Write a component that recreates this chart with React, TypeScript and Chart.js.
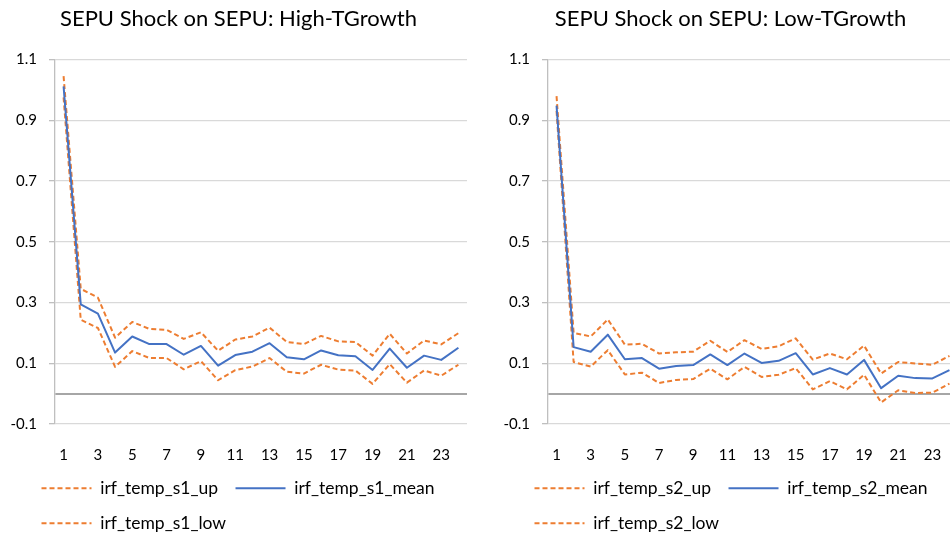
import React, { useEffect, useRef } from "react";
import { Chart, registerables } from "chart.js";

Chart.register(...registerables);

const PERIODS = Array.from({ length: 24 }, (_, i) => String(i + 1));
const Y_TICKS = [-0.1, 0, 0.1, 0.3, 0.5, 0.7, 0.9, 1.1];

const TITLE_1 = "SEPU Shock on SEPU: High-TGrowth";
const S1_UP = [1.045, 0.345, 0.316, 0.184, 0.236, 0.213, 0.21, 0.18, 0.202, 0.141, 0.178, 0.188, 0.217, 0.17, 0.163, 0.19, 0.172, 0.17, 0.125, 0.197, 0.132, 0.175, 0.162, 0.199];
const S1_MEAN = [1.011, 0.294, 0.263, 0.135, 0.188, 0.163, 0.163, 0.128, 0.157, 0.092, 0.127, 0.138, 0.166, 0.12, 0.113, 0.142, 0.126, 0.123, 0.078, 0.148, 0.085, 0.125, 0.111, 0.151];
const S1_LOW = [0.975, 0.243, 0.216, 0.088, 0.14, 0.117, 0.117, 0.08, 0.107, 0.044, 0.077, 0.089, 0.117, 0.072, 0.066, 0.095, 0.079, 0.076, 0.032, 0.097, 0.036, 0.076, 0.059, 0.095];

const TITLE_2 = "SEPU Shock on SEPU: Low-TGrowth";
const S2_UP = [0.979, 0.2, 0.188, 0.244, 0.161, 0.164, 0.132, 0.136, 0.138, 0.174, 0.137, 0.176, 0.147, 0.156, 0.182, 0.112, 0.132, 0.113, 0.158, 0.066, 0.104, 0.099, 0.095, 0.124];
const S2_MEAN = [0.948, 0.153, 0.138, 0.194, 0.113, 0.117, 0.082, 0.091, 0.094, 0.129, 0.094, 0.132, 0.101, 0.108, 0.133, 0.063, 0.084, 0.063, 0.111, 0.018, 0.059, 0.051, 0.05, 0.077];
const S2_LOW = [0.93, 0.104, 0.089, 0.143, 0.063, 0.069, 0.035, 0.045, 0.048, 0.082, 0.047, 0.088, 0.055, 0.062, 0.084, 0.014, 0.041, 0.014, 0.062, -0.029, 0.011, 0.002, 0.003, 0.033];

const ORANGE = "#ED7D31";
const BLUE = "#4472C4";
const FONT = "Lato, 'Open Sans', sans-serif";
const CANVAS_H = 542;

const legendShift = {
  id: "legendShift",
  afterLayout(chart: any) {
    if (chart.legend) {
      chart.legend.left += 14;
      chart.legend.right += 14;
    }
  },
};

type Props = {
  title: string;
  prefix: string;
  up: number[];
  mean: number[];
  low: number[];
  left: number;
  width: number;
};

function IrfChart({ title, prefix, up, mean, low, left, width }: Props) {
  const ref = useRef<HTMLCanvasElement>(null);
  useEffect(() => {
    const canvas = ref.current!;
    const dashed = { borderColor: ORANGE, backgroundColor: ORANGE, borderWidth: 2, borderDash: [5, 3], pointRadius: 0, tension: 0, borderJoinStyle: "round" as const };
    const chart = new Chart(canvas, {
      type: "line",
      plugins: [legendShift],
      data: {
        labels: PERIODS,
        datasets: [
          { label: prefix + "_up", data: up, ...dashed, order: 2 },
          { label: prefix + "_mean", data: mean, borderColor: BLUE, backgroundColor: BLUE, borderWidth: 2, pointRadius: 0, tension: 0, borderJoinStyle: "round", order: 1 },
          { label: prefix + "_low", data: low, ...dashed, order: 3 },
        ],
      },
      options: {
        animation: false,
        responsive: false,
        devicePixelRatio: 1,
        layout: { padding: { left: 10, right: 13, top: 0, bottom: 0 } },
        plugins: {
          title: {
            display: true,
            text: title,
            color: "#000",
            font: { family: FONT, size: 22, weight: "normal" },
            padding: { top: 6, bottom: 27 },
          },
          legend: {
            position: "bottom",
            align: "start",
            labels: {
              usePointStyle: true,
              pointStyle: "line",
              pointStyleWidth: 50,
              boxWidth: 50,
              padding: 17.5,
              color: "#000",
              font: { family: FONT, size: 17.5 },
              sort: (a: any, b: any) => a.datasetIndex - b.datasetIndex,
              generateLabels: (c: any) => {
                const items = Chart.defaults.plugins.legend.labels.generateLabels(c);
                return items.map((it: any) => {
                  const ds: any = c.data.datasets[it.datasetIndex];
                  return { ...it, lineDash: ds.borderDash || [], lineWidth: 2, strokeStyle: ds.borderColor, fillStyle: ds.borderColor };
                });
              },
            },
          },
          tooltip: { enabled: false },
        },
        scales: {
          x: {
            offset: true,
            grid: { display: false },
            border: { display: false },
            ticks: {
              autoSkip: false,
              maxRotation: 0,
              padding: 14,
              color: "#000",
              font: { family: FONT, size: 15 },
              callback: (_v: any, i: number) => (i % 2 === 0 ? PERIODS[i] : ""),
            },
            afterFit: (s: any) => {
              s.height = 38;
            },
          },
          y: {
            min: -0.1,
            max: 1.1,
            afterBuildTicks: (s: any) => {
              s.ticks = Y_TICKS.map((v) => ({ value: v }));
            },
            afterFit: (s: any) => {
              s.width = 45;
            },
            grid: {
              color: (c: any) => (c.tick && c.tick.value === 0 ? "#a6a6a6" : "#d9d9d9"),
              lineWidth: (c: any) => (c.tick && c.tick.value === 0 ? 2 : 1.3),
              tickColor: (c: any) => (c.tick && c.tick.value === 0 ? "rgba(0,0,0,0)" : "#bfbfbf"),
              tickLength: 6,
            },
            border: { display: true, color: "#bfbfbf", width: 1.3 },
            ticks: {
              padding: 12,
              color: "#000",
              font: { family: FONT, size: 15 },
              callback: (v: any) => (v === 0 ? "" : Number(v).toFixed(1)),
            },
          },
        },
      },
    });
    return () => chart.destroy();
  }, []);
  return (
    <canvas
      ref={ref}
      width={width}
      height={CANVAS_H}
      style={{ position: "absolute", left, top: 0, width, height: CANVAS_H }}
    />
  );
}

export default function App() {
  return (
    <div style={{ position: "fixed", left: 0, top: 0, width: 950, height: 534, overflow: "hidden", background: "#fff" }}>
      <IrfChart title={TITLE_1} prefix="irf_temp_s1" up={S1_UP} mean={S1_MEAN} low={S1_LOW} left={0} width={480} />
      <IrfChart title={TITLE_2} prefix="irf_temp_s2" up={S2_UP} mean={S2_MEAN} low={S2_LOW} left={493} width={478} />
    </div>
  );
}
